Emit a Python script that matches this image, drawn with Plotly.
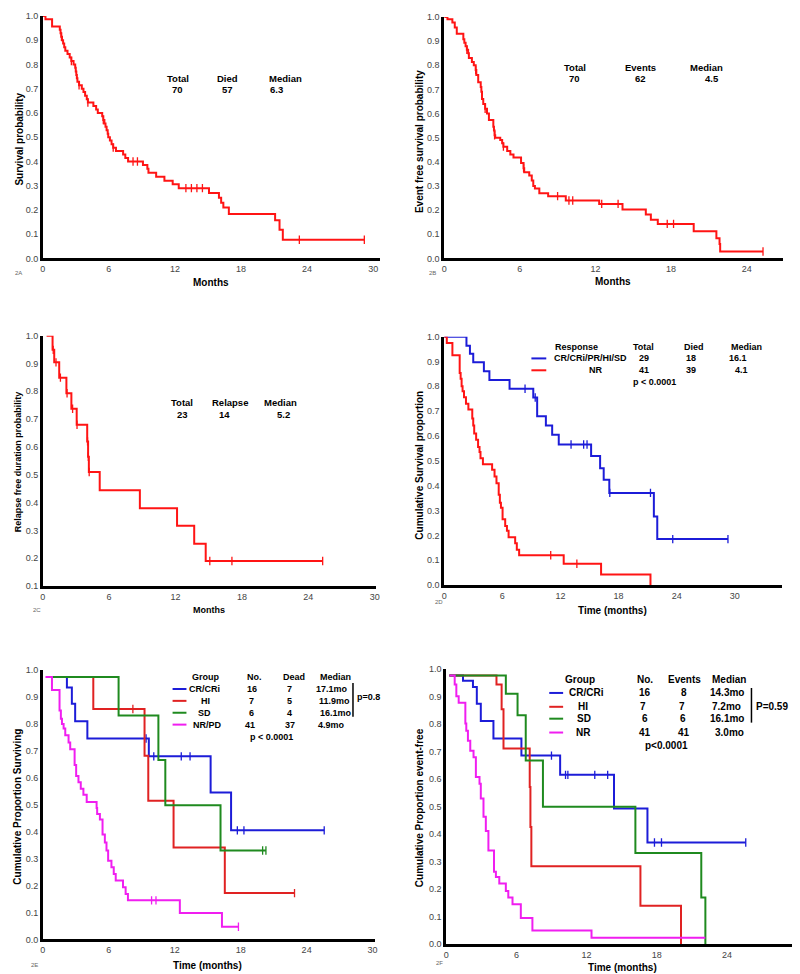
import plotly.graph_objects as go

W, H = 800, 974
FONT = "Arial, Liberation Sans, sans-serif"

# ---------------- data (months, survival) ----------------
# 2A overall survival
a_start, a_s0 = 0.0, 1.0
a_time = [0.25, 0.85, 1.55, 1.62, 1.68, 1.75, 1.85, 1.95, 2.05, 2.25, 2.45, 2.6, 2.8, 2.95, 3.0, 3.05,
          3.1, 3.15, 3.3, 3.55, 3.7, 3.85, 4.0, 4.1, 4.6, 4.85, 5.0, 5.4, 5.5, 5.6, 5.7, 5.8, 5.9, 5.95,
          6.1, 6.25, 6.4, 6.65, 7.3, 7.5, 7.75, 9.1, 9.5, 9.6, 10.3, 11.05, 11.8, 12.35, 15.1, 16.0,
          16.2, 16.4, 16.9, 21.1, 21.5, 21.8]
a_surv = [0.986, 0.957, 0.943, 0.929, 0.914, 0.9, 0.886, 0.871, 0.857, 0.843, 0.829, 0.814, 0.8, 0.786,
          0.771, 0.757, 0.743, 0.729, 0.714, 0.7, 0.686, 0.671, 0.657, 0.643, 0.629, 0.614, 0.6, 0.586,
          0.571, 0.557, 0.543, 0.529, 0.514, 0.5, 0.486, 0.471, 0.457, 0.443, 0.429, 0.414, 0.4, 0.385,
          0.37, 0.353, 0.337, 0.32, 0.306, 0.29, 0.27, 0.25, 0.23, 0.21, 0.183, 0.158, 0.118, 0.077]
a_end = 29.2
a_cens = [1.7, 2.6, 3.3, 4.1, 5.5, 6.4, 8.2, 8.6, 13.0, 13.5, 14.0, 14.5, 23.3, 29.2]

# 2B event free survival
b_start, b_s0 = 0.0, 1.0
b_time = [0.26, 0.65, 0.84, 1.0, 1.52, 1.6, 1.7, 1.8, 1.9, 1.96, 2.2, 2.35, 2.5, 2.55, 2.7, 2.9, 2.95,
          3.0, 3.1, 3.25, 3.4, 3.55, 3.9, 3.95, 4.0, 4.05, 4.45, 4.6, 4.7, 5.0, 5.25, 5.5, 6.1, 6.3,
          6.35, 6.75, 6.95, 7.07, 7.2, 7.55, 8.25, 9.65, 12.3, 14.15, 16.0, 16.4, 16.95, 19.8, 21.6,
          21.85, 21.9]
b_surv = [0.99, 0.977, 0.956, 0.93, 0.908, 0.893, 0.879, 0.864, 0.85, 0.83, 0.814, 0.8, 0.78, 0.76,
          0.73, 0.71, 0.69, 0.66, 0.64, 0.62, 0.6, 0.573, 0.545, 0.53, 0.51, 0.5, 0.49, 0.477, 0.463,
          0.445, 0.43, 0.418, 0.395, 0.374, 0.357, 0.343, 0.323, 0.3, 0.29, 0.27, 0.258, 0.24, 0.226,
          0.203, 0.182, 0.16, 0.143, 0.113, 0.084, 0.06, 0.029]
b_end = 25.3
b_cens = [1.8, 2.5, 3.25, 4.0, 4.7, 6.3, 9.0, 9.9, 10.2, 12.5, 13.8, 17.7, 18.2, 25.3]

# 2C relapse free duration
c_start, c_s0 = 0.35, 1.0
c_time = [0.89, 1.04, 1.49, 2.14, 2.59, 3.07, 4.02, 4.1, 4.17, 5.15, 8.78, 12.14, 13.69, 14.73]
c_surv = [0.949, 0.904, 0.849, 0.793, 0.737, 0.68, 0.62, 0.565, 0.51, 0.444, 0.38, 0.317, 0.252, 0.19]
c_end = 25.3
c_cens = [0.95, 1.2, 1.6, 2.2, 2.7, 3.1, 4.05, 4.12, 4.2, 15.1, 17.1, 25.3]

# 2D survival by response
d_resp_time = [2.3, 2.66, 3.0, 4.1, 4.67, 6.75, 9.2, 9.6, 10.5, 11.15, 11.83, 15.17, 16.1, 16.47,
               17.05, 21.65, 22.0]
d_resp_surv = [0.963, 0.931, 0.897, 0.861, 0.825, 0.79, 0.755, 0.68, 0.642, 0.605, 0.566, 0.52,
               0.47, 0.424, 0.371, 0.276, 0.185]
d_resp_end = 29.3
d_resp_cens = [8.35, 9.4, 13.1, 14.4, 14.75, 17.1, 21.3, 23.6, 29.3]

d_nr_time = [0.27, 0.85, 1.6, 1.7, 1.8, 1.9, 2.05, 2.25, 2.5, 2.9, 3.0, 3.1, 3.3, 3.5, 3.65, 3.75,
             4.0, 4.95, 5.2, 5.4, 5.63, 5.75, 5.86, 6.03, 6.3, 6.48, 6.65, 7.33, 7.5, 7.74, 12.34,
             16.2, 21.3]
d_nr_surv = [0.974, 0.925, 0.854, 0.83, 0.8, 0.78, 0.756, 0.73, 0.707, 0.67, 0.642, 0.61, 0.585,
             0.556, 0.536, 0.51, 0.486, 0.464, 0.437, 0.41, 0.364, 0.331, 0.311, 0.265, 0.238, 0.219,
             0.192, 0.168, 0.142, 0.12, 0.086, 0.043, 0.0]
d_nr_end = 21.3
d_nr_cens = [11.0, 13.7]

# 2E survival by group
e_s0 = 0.975
e_cr_time = [2.2, 2.65, 2.95, 4.06, 9.65, 15.27, 17.13]
e_cr_surv = [0.936, 0.875, 0.81, 0.746, 0.68, 0.546, 0.405]
e_cr_end, e_cr_cens = 25.6, [9.4, 10.1, 12.6, 13.4, 17.7, 18.3, 25.6]

e_hi_time = [4.6, 9.26, 9.6, 11.9, 16.56]
e_hi_surv = [0.856, 0.682, 0.515, 0.341, 0.172]
e_hi_end, e_hi_cens = 22.9, [8.2, 22.9]

e_sd_time = [6.9, 10.52, 11.15, 16.17]
e_sd_surv = [0.832, 0.666, 0.498, 0.33]
e_sd_end, e_sd_cens = 20.3, [20.0, 20.3]

e_nr_time = [0.84, 1.53, 1.65, 1.75, 1.9, 2.05, 2.35, 2.5, 2.9, 3.04, 3.25, 3.46, 3.7, 4.0, 4.9,
             4.95, 5.2, 5.44, 5.65, 5.8, 5.95, 6.25, 6.46, 6.64, 7.3, 7.54, 7.75, 12.47, 16.3]
e_nr_surv = [0.926, 0.85, 0.82, 0.8, 0.783, 0.758, 0.731, 0.706, 0.648, 0.607, 0.584, 0.56, 0.537,
             0.51, 0.488, 0.466, 0.445, 0.39, 0.36, 0.33, 0.292, 0.268, 0.243, 0.219, 0.194, 0.169,
             0.145, 0.098, 0.047]
e_nr_end, e_nr_cens = 17.8, [9.9, 10.3, 17.8]

# 2F event-free by group
f_s0 = 0.977
f_cr_time = [1.44, 2.29, 2.62, 2.96, 4.04, 6.43, 9.74, 14.34, 17.2]
f_cr_surv = [0.958, 0.935, 0.874, 0.812, 0.748, 0.686, 0.616, 0.494, 0.37]
f_cr_end, f_cr_cens = 25.6, [9.0, 10.2, 10.4, 12.7, 13.8, 17.8, 18.4, 25.6]

f_hi_time = [4.3, 4.74, 4.9, 7.14, 7.2, 7.28, 16.6, 20.07]
f_hi_surv = [0.944, 0.854, 0.712, 0.572, 0.426, 0.284, 0.14, 0.0]
f_hi_end, f_hi_cens = 20.07, []

f_sd_time = [5.1, 6.1, 6.8, 8.27, 16.17, 21.8, 22.15]
f_sd_surv = [0.911, 0.833, 0.668, 0.5, 0.332, 0.17, 0.0]
f_sd_end, f_sd_cens = 22.15, []

f_nr_time = [0.73, 0.87, 1.07, 1.64, 1.72, 1.86, 2.06, 2.34, 2.54, 2.85, 2.96, 3.19, 3.39, 3.61,
             4.09, 4.25, 4.54, 5.1, 5.31, 5.67, 6.38, 7.37, 12.42]
f_nr_surv = [0.944, 0.902, 0.878, 0.803, 0.776, 0.74, 0.704, 0.68, 0.608, 0.584, 0.53, 0.464,
             0.412, 0.341, 0.264, 0.245, 0.221, 0.194, 0.17, 0.146, 0.096, 0.05, 0.024]
f_nr_end, f_nr_cens = 22.15, []

x_ticks = [0, 6, 12, 18, 24, 30]
y_ticks = [0.0, 0.1, 0.2, 0.3, 0.4, 0.5, 0.6, 0.7, 0.8, 0.9, 1.0]

RED = "#ff1414"
BLUE = "#1c1cd8"
E_RED = "#e02222"
E_GREEN = "#1f8a1f"
MAGENTA = "#f01ef0"


def step_at(t, start, s0, times, surv):
    val = s0
    for ti, si in zip(times, surv):
        if ti <= t:
            val = si
    return val


fig = go.Figure()


def add_curve(n, start, s0, times, surv, end, cens, color, width=2):
    xs = [start] + times + [end]
    ys = [s0] + surv + [surv[-1]]
    fig.add_trace(go.Scatter(x=xs, y=ys, mode="lines", line=dict(color=color, width=width, shape="hv"),
                             xaxis=f"x{n}", yaxis=f"y{n}", showlegend=False, hoverinfo="skip"))
    if cens:
        fig.add_trace(go.Scatter(x=cens, y=[step_at(c, start, s0, times, surv) for c in cens],
                                 mode="markers",
                                 marker=dict(symbol="line-ns", size=6, line=dict(color=color, width=1.3)),
                                 xaxis=f"x{n}", yaxis=f"y{n}", showlegend=False, hoverinfo="skip"))


add_curve(1, a_start, a_s0, a_time, a_surv, a_end, a_cens, RED)
add_curve(2, b_start, b_s0, b_time, b_surv, b_end, b_cens, RED)
add_curve(3, c_start, c_s0, c_time, c_surv, c_end, c_cens, RED)
add_curve(4, 0.0, 1.0, d_resp_time, d_resp_surv, d_resp_end, d_resp_cens, BLUE)
add_curve(4, 0.0, 1.0, d_nr_time, d_nr_surv, d_nr_end, d_nr_cens, RED)
add_curve(5, 0.3, e_s0, e_cr_time, e_cr_surv, e_cr_end, e_cr_cens, BLUE)
add_curve(5, 0.3, e_s0, e_hi_time, e_hi_surv, e_hi_end, e_hi_cens, E_RED)
add_curve(5, 0.3, e_s0, e_sd_time, e_sd_surv, e_sd_end, e_sd_cens, E_GREEN)
add_curve(5, 0.25, e_s0, e_nr_time, e_nr_surv, e_nr_end, e_nr_cens, MAGENTA)
add_curve(6, 0.28, f_s0, f_cr_time, f_cr_surv, f_cr_end, f_cr_cens, BLUE)
add_curve(6, 0.28, f_s0, f_hi_time, f_hi_surv, f_hi_end, f_hi_cens, E_RED)
add_curve(6, 0.28, f_s0, f_sd_time, f_sd_surv, f_sd_end, f_sd_cens, E_GREEN)
add_curve(6, 0.28, f_s0, f_nr_time, f_nr_surv, f_nr_end, f_nr_cens, MAGENTA)

# panel boxes in pixels: left, right, top, bottom, x range, y range
panels = {
    1: (32, 372, 3, 248, [0, 30.6], [0, 1.0], x_ticks),
    2: (437, 779, 4, 248, [0, 26.9], [0, 1.0], x_ticks[:5]),
    3: (32, 368, 326, 579, [0, 30.1], [0.1, 1.0], x_ticks),
    4: (437, 778, 327, 578, [0, 34.9], [0, 1.0], x_ticks),
    5: (32, 367, 664, 936, [0, 30.2], [0, 1.0], x_ticks),
    6: (439, 792, 663, 941, [0, 29.9], [0, 1.0], x_ticks),
}

layout = dict(width=W, height=H, margin=dict(l=0, r=0, t=0, b=0), paper_bgcolor="white",
              plot_bgcolor="white", showlegend=False, font=dict(family=FONT))
for n, (l, r, t, b, xr, yr, xt) in panels.items():
    layout[f"xaxis{n}"] = dict(domain=[l / W, r / W], range=xr, anchor=f"y{n}", showline=True,
                               linewidth=2.5, linecolor="black", showgrid=False, zeroline=False,
                               ticks="", tickvals=xt, tickfont=dict(size=9, color="#444"))
    yt = [v for v in y_ticks if v >= yr[0] - 1e-9]
    layout[f"yaxis{n}"] = dict(domain=[1 - b / H, 1 - t / H], range=yr, anchor=f"x{n}", showline=True,
                               linewidth=2.5, linecolor="black", showgrid=False, zeroline=False,
                               ticks="", tickvals=yt, ticktext=[f"{v:.1f}" for v in yt],
                               tickfont=dict(size=9, color="#444"))
fig.update_layout(**layout)

anns = []


def txt(x, y, s, size=9.5, bold=True, anchor="center", angle=0, color="black"):
    anns.append(dict(x=x / W, y=1 - y / H, xref="paper", yref="paper", text=f"<b>{s}</b>" if bold else s,
                     showarrow=False, xanchor=anchor, yanchor="middle", textangle=angle,
                     font=dict(size=size, color=color, family=FONT)))


# 2A
for s, x, y in [("Total", 168, 66), ("70", 168, 77), ("Died", 218, 66), ("57", 218, 77),
                ("Median", 277, 66), ("6.3", 268, 77)]:
    txt(x, y, s)
txt(9, 127, "Survival probability", 10, angle=-90)
txt(202, 272, "Months", 10)
txt(8, 263, "2A", 6, bold=False, color="#666")

# 2B
for s, x, y in [("Total", 569, 55), ("70", 568, 66), ("Events", 635, 55), ("62", 635, 66),
                ("Median", 702, 55), ("4.5", 707, 66)]:
    txt(x, y, s)
txt(412, 130, "Event free survival probability", 10, angle=-90)
txt(607, 271, "Months", 10)
txt(425, 263, "2B", 6, bold=False, color="#666")

# 2C
for s, x, y in [("Total", 173, 394), ("23", 173, 406), ("Relapse", 221, 394), ("14", 215, 406),
                ("Median", 272, 394), ("5.2", 275, 406)]:
    txt(x, y, s)
txt(7, 453, "Relapse free duration probability", 9, angle=-90)
txt(200, 603, "Months", 9)
txt(26, 603, "2C", 6, bold=False, color="#666")

# 2D
for s, x, y in [("Response", 570, 337), ("Total", 638, 337), ("Died", 689, 337), ("Median", 742, 337),
                ("CR/CRi/PR/HI/SD", 585, 349), ("29", 639, 349), ("18", 686, 349), ("16.1", 733, 349),
                ("NR", 590, 361), ("41", 639, 361), ("39", 686, 361), ("4.1", 737, 361),
                ("p < 0.0001", 649, 373)]:
    txt(x, y, s, 9)
txt(412, 457, "Cumulative Survival proportion", 10, angle=-90)
txt(607, 604, "Time (months)", 10)
txt(432, 595, "2D", 6, bold=False, color="#666")

# 2E
for s, x, y in [("Group", 196, 671), ("No.", 246, 671), ("Dead", 286, 671), ("Median", 327, 671),
                ("CR/CRi", 195, 683), ("16", 243, 683), ("7", 281, 683), ("17.1mo", 324, 683),
                ("HI", 196, 695), ("7", 243, 695), ("5", 281, 695), ("11.9mo", 326, 695),
                ("SD", 195, 707), ("6", 243, 707), ("4", 281, 707), ("16.1mo", 328, 707),
                ("NR/PD", 198, 719), ("41", 241, 719), ("37", 281, 719), ("4.9mo", 323, 719),
                ("p < 0.0001", 263, 732)]:
    txt(x, y, s, 9)
txt(347, 691, "p=0.8", 9, anchor="left")
txt(7, 802, "Cumulative Proportion Surviving", 10, angle=-90)
txt(198, 962, "Time (months)", 10)
txt(24, 962, "2E", 6, bold=False, color="#666")

# 2F
for s, x, y in [("Group", 574, 673), ("No.", 640, 673), ("Events", 679, 673), ("Median", 724, 673),
                ("CR/CRi", 581, 687), ("16", 640, 687), ("8", 679, 687), ("14.3mo", 722, 687),
                ("HI", 577, 701), ("7", 638, 701), ("7", 677, 701), ("7.2mo", 722, 701),
                ("SD", 578, 713), ("6", 640, 713), ("6", 678, 713), ("16.1mo", 722, 713),
                ("NR", 578, 727), ("41", 640, 727), ("41", 679, 727), ("3.0mo", 725, 727),
                ("p<0.0001", 661, 740)]:
    txt(x, y, s, 10)
txt(750, 701, "P=0.59", 10, anchor="left")
txt(412, 803, "Cumulative Proportion event-free", 10, angle=-90)
txt(617, 964, "Time (months)", 10)
txt(432, 960, "2F", 6, bold=False, color="#666")

shapes = []


def seg(x0, y0, x1, y1, color, w=2):
    shapes.append(dict(type="line", xref="paper", yref="paper", x0=x0 / W, x1=x1 / W,
                       y0=1 - y0 / H, y1=1 - y1 / H, line=dict(color=color, width=w)))


# legend keys
seg(525, 349, 540, 349, BLUE)
seg(525, 361, 540, 361, RED)
for y, c in zip([683, 695, 707, 719], [BLUE, E_RED, E_GREEN, MAGENTA]):
    seg(163, y, 177, y, c)
for y, c in zip([687, 701, 713, 727], [BLUE, E_RED, E_GREEN, MAGENTA]):
    seg(543, y, 557, y, c)
# brackets
seg(345, 677, 345, 711, "black", 1.5)
seg(747, 682, 747, 717, "black", 1.5)

fig.update_layout(annotations=anns, shapes=shapes)
fig.write_html("out.html")
